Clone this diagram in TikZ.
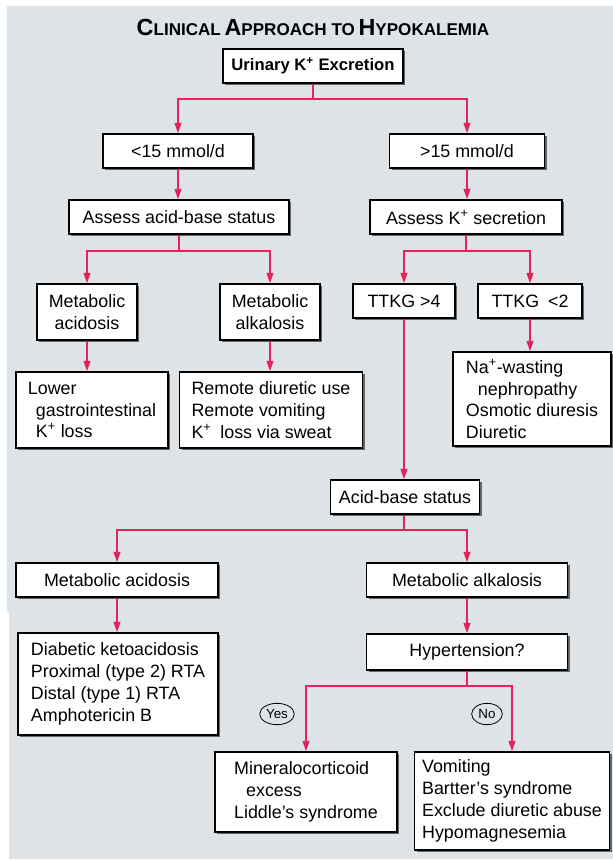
\documentclass[tikz,border=0pt]{standalone}
\usepackage{fontspec}
\setmainfont{Liberation Sans}
\usepackage{xcolor}
\usetikzlibrary{arrows.meta,shadows,shapes.geometric}

\definecolor{bgray}{HTML}{DEE3E8}
\definecolor{crim}{HTML}{E3245C}
\newcommand{\boxfont}{\fontsize{13.4pt}{16.4pt}\selectfont}
\newcommand{\tsc}[2]{{\fontsize{17.5pt}{17.5pt}\selectfont #1}{\fontsize{12.8pt}{12.8pt}\selectfont #2}}
\newcommand{\Kp}{K\textsuperscript{+}}

\tikzset{
  box/.style={draw, fill=white, line width=0.8pt, inner sep=3pt, font=\boxfont,
    align=left, drop shadow={shadow xshift=1.6pt, shadow yshift=-1.6pt, fill=black, opacity=0.55}},
  wh/.style 2 args={minimum width=#1*0.75pt, minimum height=#2*0.75pt},
  link/.style={draw=crim, line width=1.5pt},
  arr/.style={link, -{Triangle[width=5pt,length=8pt]}},
  yesno/.style={draw, ellipse, line width=0.6pt, inner sep=1pt, minimum width=23pt,
    minimum height=16pt, font=\fontsize{10pt}{10pt}\selectfont}
}

\begin{document}
\begin{tikzpicture}[x=0.75pt,y=-0.75pt]

\useasboundingbox (0,0) rectangle (613,861);
\fill[bgray] (7,6) rectangle (613,612);
\fill[bgray] (9,612) rectangle (613,859);

\node[font=\bfseries] at (313,27) (title) {\tsc{C}{LINICAL} \tsc{A}{PPROACH TO} \tsc{H}{YPOKALEMIA}};

\node[box, wh={180}{34}, font=\fontsize{12.5pt}{15pt}\selectfont\bfseries] at (313,66) (urin) {Urinary \Kp{} Excretion};

\node[box, wh={150}{34}] at (178,151) (lt15) {<15 mmol/d};
\node[box, wh={155}{34}] at (467,151) (gt15) {>15 mmol/d};

\node[box, wh={220}{34}] at (179,217) (acid1) {Assess acid-base status};
\node[box, wh={192}{34}] at (466,217) (ksec) {Assess \Kp{} secretion};

\node[box, wh={100}{56}, align=center] at (87,312) (ma1) {Metabolic\\acidosis};
\node[box, wh={100}{56}, align=center] at (270,312) (malk1) {Metabolic\\alkalosis};
\node[box, wh={102}{34}] at (404,301) (ttkg4) {TTKG >4};
\node[box, wh={104}{34}] at (530,301) (ttkg2) {TTKG\enspace<2};

\node[box, wh={152}{76}] at (92,410) (gi) {Lower\\\hspace{6pt}gastrointestinal\\\hspace{6pt}\Kp{} loss};
\node[box, wh={183}{76}] at (271,410) (remote) {Remote diuretic use\\Remote vomiting\\\Kp\enspace loss via sweat};
\node[box, wh={158}{94}] at (532,399) (na) {Na\textsuperscript{+}-wasting\\\hspace{9pt}nephropathy\\Osmotic diuresis\\Diuretic};

\node[box, wh={149}{34}] at (405,497) (abs) {Acid-base status};

\node[box, wh={202}{34}] at (117,580) (ma2) {Metabolic acidosis};
\node[box, wh={201}{34}] at (467,580) (malk2) {Metabolic alkalosis};

\node[box, wh={200}{102}] at (118,684) (dka) {Diabetic ketoacidosis\\Proximal (type 2) RTA\\Distal (type 1) RTA\\Amphotericin B};
\node[box, wh={201}{36}] at (467,652) (hyp) {Hypertension?};

\node[box, wh={182}{80}] at (306,792) (mc) {Mineralocorticoid\\\hspace{9pt}excess\\Liddle's syndrome};
\node[box, wh={195}{98}] at (512,801) (vom) {Vomiting\\Bartter's syndrome\\Exclude diuretic abuse\\Hypomagnesemia};

\node[yesno] at (277,714) (yes) {Yes};
\node[yesno] at (487,714) (no) {No};

\coordinate (j1) at (313,99);
\coordinate (j2) at (179,251);
\coordinate (j3) at (466,251);
\coordinate (j4) at (404,530);
\coordinate (j5) at (467,686);

\draw[link] (urin.south) -- (j1);
\draw[arr] (j1) -| (lt15.north);
\draw[arr] (j1) -| (gt15.north);
\draw[arr] (lt15.south) -- (lt15.south |- acid1.north);
\draw[arr] (gt15.south) -- (gt15.south |- ksec.north);

\draw[link] (acid1.south) -- (j2);
\draw[arr] (j2) -| (ma1.north);
\draw[arr] (j2) -| (malk1.north);
\draw[link] (ksec.south) -- (j3);
\draw[arr] (j3) -| (ttkg4.north);
\draw[arr] (j3) -| (ttkg2.north);

\draw[arr] (ma1.south) -- (ma1.south |- gi.north);
\draw[arr] (malk1.south) -- (malk1.south |- remote.north);
\draw[arr] (ttkg2.south) -- (ttkg2.south |- na.north);
\draw[arr] (ttkg4.south) -- (ttkg4.south |- abs.north);

\draw[link] (abs.south -| j4) -- (j4);
\draw[arr] (j4) -| (ma2.north);
\draw[arr] (j4) -| (malk2.north);
\draw[arr] (ma2.south) -- (ma2.south |- dka.north);
\draw[arr] (malk2.south) -- (malk2.south |- hyp.north);

\draw[link] (hyp.south) -- (j5);
\draw[arr] (j5) -| (mc.north);
\draw[arr] (j5) -| (vom.north);

\end{tikzpicture}
\end{document}
